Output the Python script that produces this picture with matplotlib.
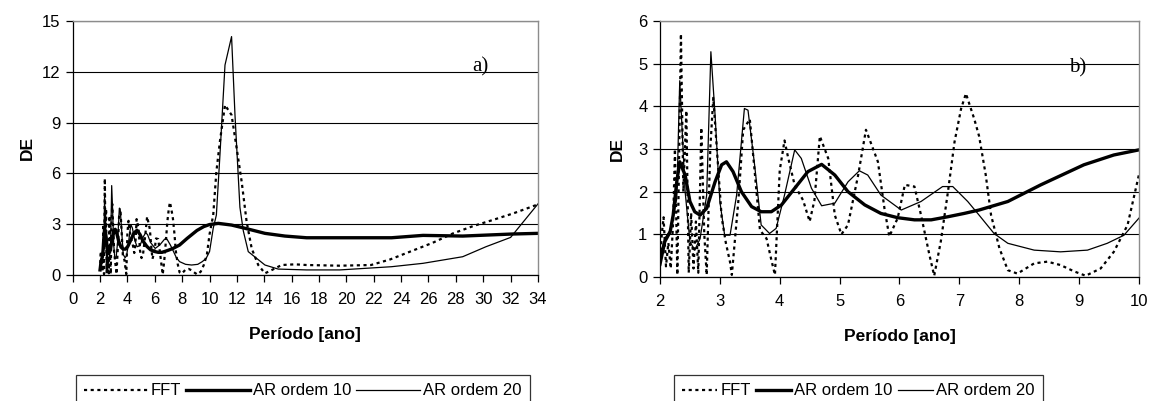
import numpy as np
import matplotlib.pyplot as plt

plt.rcParams['font.family'] = ['Liberation Sans', 'DejaVu Sans']

# ---- chart b) periods 2-10 (also the start of chart a) ----
fft_per = [2.0, 2.03, 2.06, 2.1, 2.14, 2.18, 2.22, 2.25, 2.29, 2.35, 2.39, 2.44, 2.48,
           2.52, 2.56, 2.6, 2.64, 2.69, 2.74, 2.78, 2.84, 2.89, 2.95, 3.03, 3.1, 3.17,
           3.2, 3.31, 3.39, 3.5, 3.58, 3.67, 3.78, 3.86, 3.92, 4.0, 4.08, 4.14, 4.25,
           4.39, 4.5, 4.58, 4.67, 4.81, 4.92, 5.03, 5.14, 5.31, 5.44, 5.64, 5.75, 5.83,
           5.97, 6.09, 6.25, 6.36, 6.5, 6.58, 6.69, 6.81, 6.92, 7.03, 7.11, 7.25, 7.33,
           7.44, 7.53, 7.67, 7.81, 7.97, 8.25, 8.47, 8.69, 8.92, 9.11, 9.36, 9.58, 9.81, 10.0]
fft_de = [0.3, 1.0, 1.4, 0.25, 0.8, 0.2, 1.3, 3.0, 0.05, 5.7, 2.0, 3.9, 0.1,
          1.5, 0.2, 1.3, 0.1, 3.5, 1.0, 0.05, 3.0, 4.2, 3.0, 1.4, 0.8, 0.35,
          0.05, 1.8, 3.45, 3.7, 2.5, 1.1, 0.9, 0.4, 0.05, 2.5, 3.2, 2.8, 2.15,
          1.8, 1.3, 1.8, 3.3, 2.78, 1.45, 1.0, 1.22, 2.39, 3.45, 2.7, 1.6, 0.95,
          1.38, 2.16, 2.12, 1.45, 0.52, 0.03, 0.83, 2.0, 3.17, 3.95, 4.3, 3.7, 3.3,
          2.4, 1.45, 0.67, 0.16, 0.08, 0.32, 0.36, 0.28, 0.13, 0.03, 0.2, 0.59, 1.22, 2.4]

ar10_per = [2.0, 2.08, 2.17, 2.22, 2.28, 2.33, 2.42, 2.5, 2.58, 2.67, 2.78, 2.92, 3.03,
            3.11, 3.22, 3.36, 3.53, 3.69, 3.86, 4.03, 4.25, 4.47, 4.7, 4.92, 5.14,
            5.42, 5.69, 5.97, 6.25, 6.53, 6.8, 7.08, 7.33, 7.81, 8.36, 9.08, 9.58, 10.0]
ar10_de = [0.3, 0.83, 1.06, 1.45, 2.23, 2.7, 2.39, 1.77, 1.53, 1.45, 1.61, 2.23, 2.63,
           2.7, 2.47, 2.0, 1.65, 1.53, 1.53, 1.69, 2.08, 2.47, 2.64, 2.39, 2.0,
           1.69, 1.49, 1.39, 1.34, 1.34, 1.41, 1.49, 1.57, 1.77, 2.16, 2.63, 2.86, 2.98]

ar20_per = [2.0, 2.08, 2.19, 2.28, 2.33, 2.42, 2.5, 2.58, 2.67, 2.78, 2.85, 2.92, 3.0,
            3.08, 3.17, 3.28, 3.41, 3.47, 3.58, 3.69, 3.83, 3.94, 4.08, 4.25, 4.36,
            4.53, 4.7, 4.92, 5.14, 5.33, 5.47, 5.69, 6.03, 6.36, 6.72, 6.89, 7.14,
            7.33, 7.58, 7.81, 8.25, 8.69, 9.14, 9.47, 9.75, 10.0]
ar20_de = [0.52, 0.9, 1.14, 1.84, 4.6, 2.0, 0.83, 0.63, 0.9, 1.92, 5.28, 3.8, 1.77,
           0.98, 0.98, 1.92, 3.95, 3.91, 2.63, 1.22, 1.02, 1.14, 1.92, 2.98, 2.78,
           2.08, 1.67, 1.73, 2.23, 2.49, 2.39, 1.92, 1.57, 1.77, 2.12, 2.12, 1.77,
           1.45, 1.02, 0.79, 0.63, 0.59, 0.63, 0.79, 0.98, 1.38]

# ---- chart a) continuation beyond 10 years ----
fft_per_tail = [10.27, 10.5, 10.76, 11.13, 11.61, 11.98, 12.35, 12.71, 13.08, 13.56, 14.05,
                14.54, 15.27, 16.24, 17.09, 19.52, 21.8, 23.2, 26.3, 27.8, 29.3, 30.7, 32.2, 34.0]
fft_de_tail = [3.54, 6.1, 7.9, 10.04, 9.45, 7.5, 5.5, 3.15, 1.57, 0.59, 0.1,
               0.29, 0.59, 0.63, 0.59, 0.55, 0.59, 0.92, 1.9, 2.46, 2.9, 3.25, 3.64, 4.17]

ar10_per_tail = [10.64, 11.61, 12.59, 14.05, 15.51, 17.09, 23.3, 25.6, 28.5, 32.1, 34.0]
ar10_de_tail = [3.05, 2.95, 2.76, 2.46, 2.3, 2.2, 2.2, 2.34, 2.3, 2.42, 2.46]

ar20_per_tail = [10.27, 10.5, 10.76, 11.13, 11.61, 11.86, 12.22, 12.47, 12.83, 14.05, 15.02,
                 17.09, 19.52, 23.3, 25.6, 28.5, 30.2, 32.0, 34.0]
ar20_de_tail = [2.76, 3.54, 7.08, 12.4, 14.08, 9.45, 4.0, 2.6, 1.38, 0.59, 0.35,
                0.3, 0.3, 0.49, 0.69, 1.08, 1.67, 2.22, 4.2]

labels = ['FFT', 'AR ordem 10', 'AR ordem 20']


def style_axes(ax, yticks, xticks, xlim):
    ax.set_xlim(*xlim)
    ax.set_ylim(yticks[0], yticks[-1])
    ax.set_yticks(yticks)
    ax.set_xticks(xticks)
    ax.yaxis.grid(True, color='black', linewidth=0.8)
    ax.set_axisbelow(True)
    for s in ['top', 'right']:
        ax.spines[s].set_color('#8c8c8c')
        ax.spines[s].set_linewidth(1.0)
    for s in ['left', 'bottom']:
        ax.spines[s].set_color('black')
        ax.spines[s].set_linewidth(0.9)
    ax.tick_params(direction='out', length=5, width=0.9, labelsize=12)
    ax.tick_params(axis='y', pad=4)
    ax.tick_params(axis='x', pad=7)
    ax.set_ylabel('DE', fontsize=12.5, fontweight='bold')
    ax.set_xlabel('Período [ano]', fontsize=12.5, fontweight='bold', va='top')
    ax.xaxis.set_label_coords(0.5, -0.205)


def draw(ax, fx, fy, a10x, a10y, a20x, a20y):
    l1, = ax.plot(fx, fy, color='black', linewidth=1.6, linestyle=(0, (1.4, 1.6)))
    l2, = ax.plot(a10x, a10y, color='black', linewidth=2.4)
    l3, = ax.plot(a20x, a20y, color='black', linewidth=0.9)
    return [l1, l2, l3]


fig = plt.figure(figsize=(11.5, 4.01), dpi=100)
ax_a = fig.add_axes([0.0632, 0.3142, 0.4046, 0.6334])
ax_b = fig.add_axes([0.5739, 0.3092, 0.4165, 0.6384])

# chart a
handles = draw(ax_a, fft_per + fft_per_tail, fft_de + fft_de_tail,
               ar10_per + ar10_per_tail, ar10_de + ar10_de_tail,
               ar20_per + ar20_per_tail, ar20_de + ar20_de_tail)
style_axes(ax_a, np.arange(0, 16, 3), np.arange(0, 35, 2), (0, 34))
ax_a.yaxis.set_label_coords(-0.082, 0.5)
ax_a.text(29.8, 12.3, 'a)', family='Liberation Serif', fontsize=15, ha='center', va='center')

# chart b
draw(ax_b, fft_per, fft_de, ar10_per, ar10_de, ar20_per, ar20_de)
style_axes(ax_b, np.arange(0, 7, 1), np.arange(2, 11, 1), (2, 10))
ax_b.yaxis.set_label_coords(-0.074, 0.5)
ax_b.text(8.98, 4.9, 'b)', family='Liberation Serif', fontsize=15, ha='center', va='center')

for x0, hl in [(76 / 1150, 3.8), (674 / 1150, 2.1)]:
    leg = fig.legend(handles, labels, loc='upper left', bbox_to_anchor=(x0, 1 - 375 / 401),
                     ncol=3, fontsize=12, frameon=True, fancybox=False, edgecolor='black',
                     handlelength=hl, handletextpad=0.2, columnspacing=0.3,
                     borderpad=0.5, borderaxespad=0)
    leg.get_frame().set_linewidth(0.9)

plt.savefig('out.png', dpi=100)
